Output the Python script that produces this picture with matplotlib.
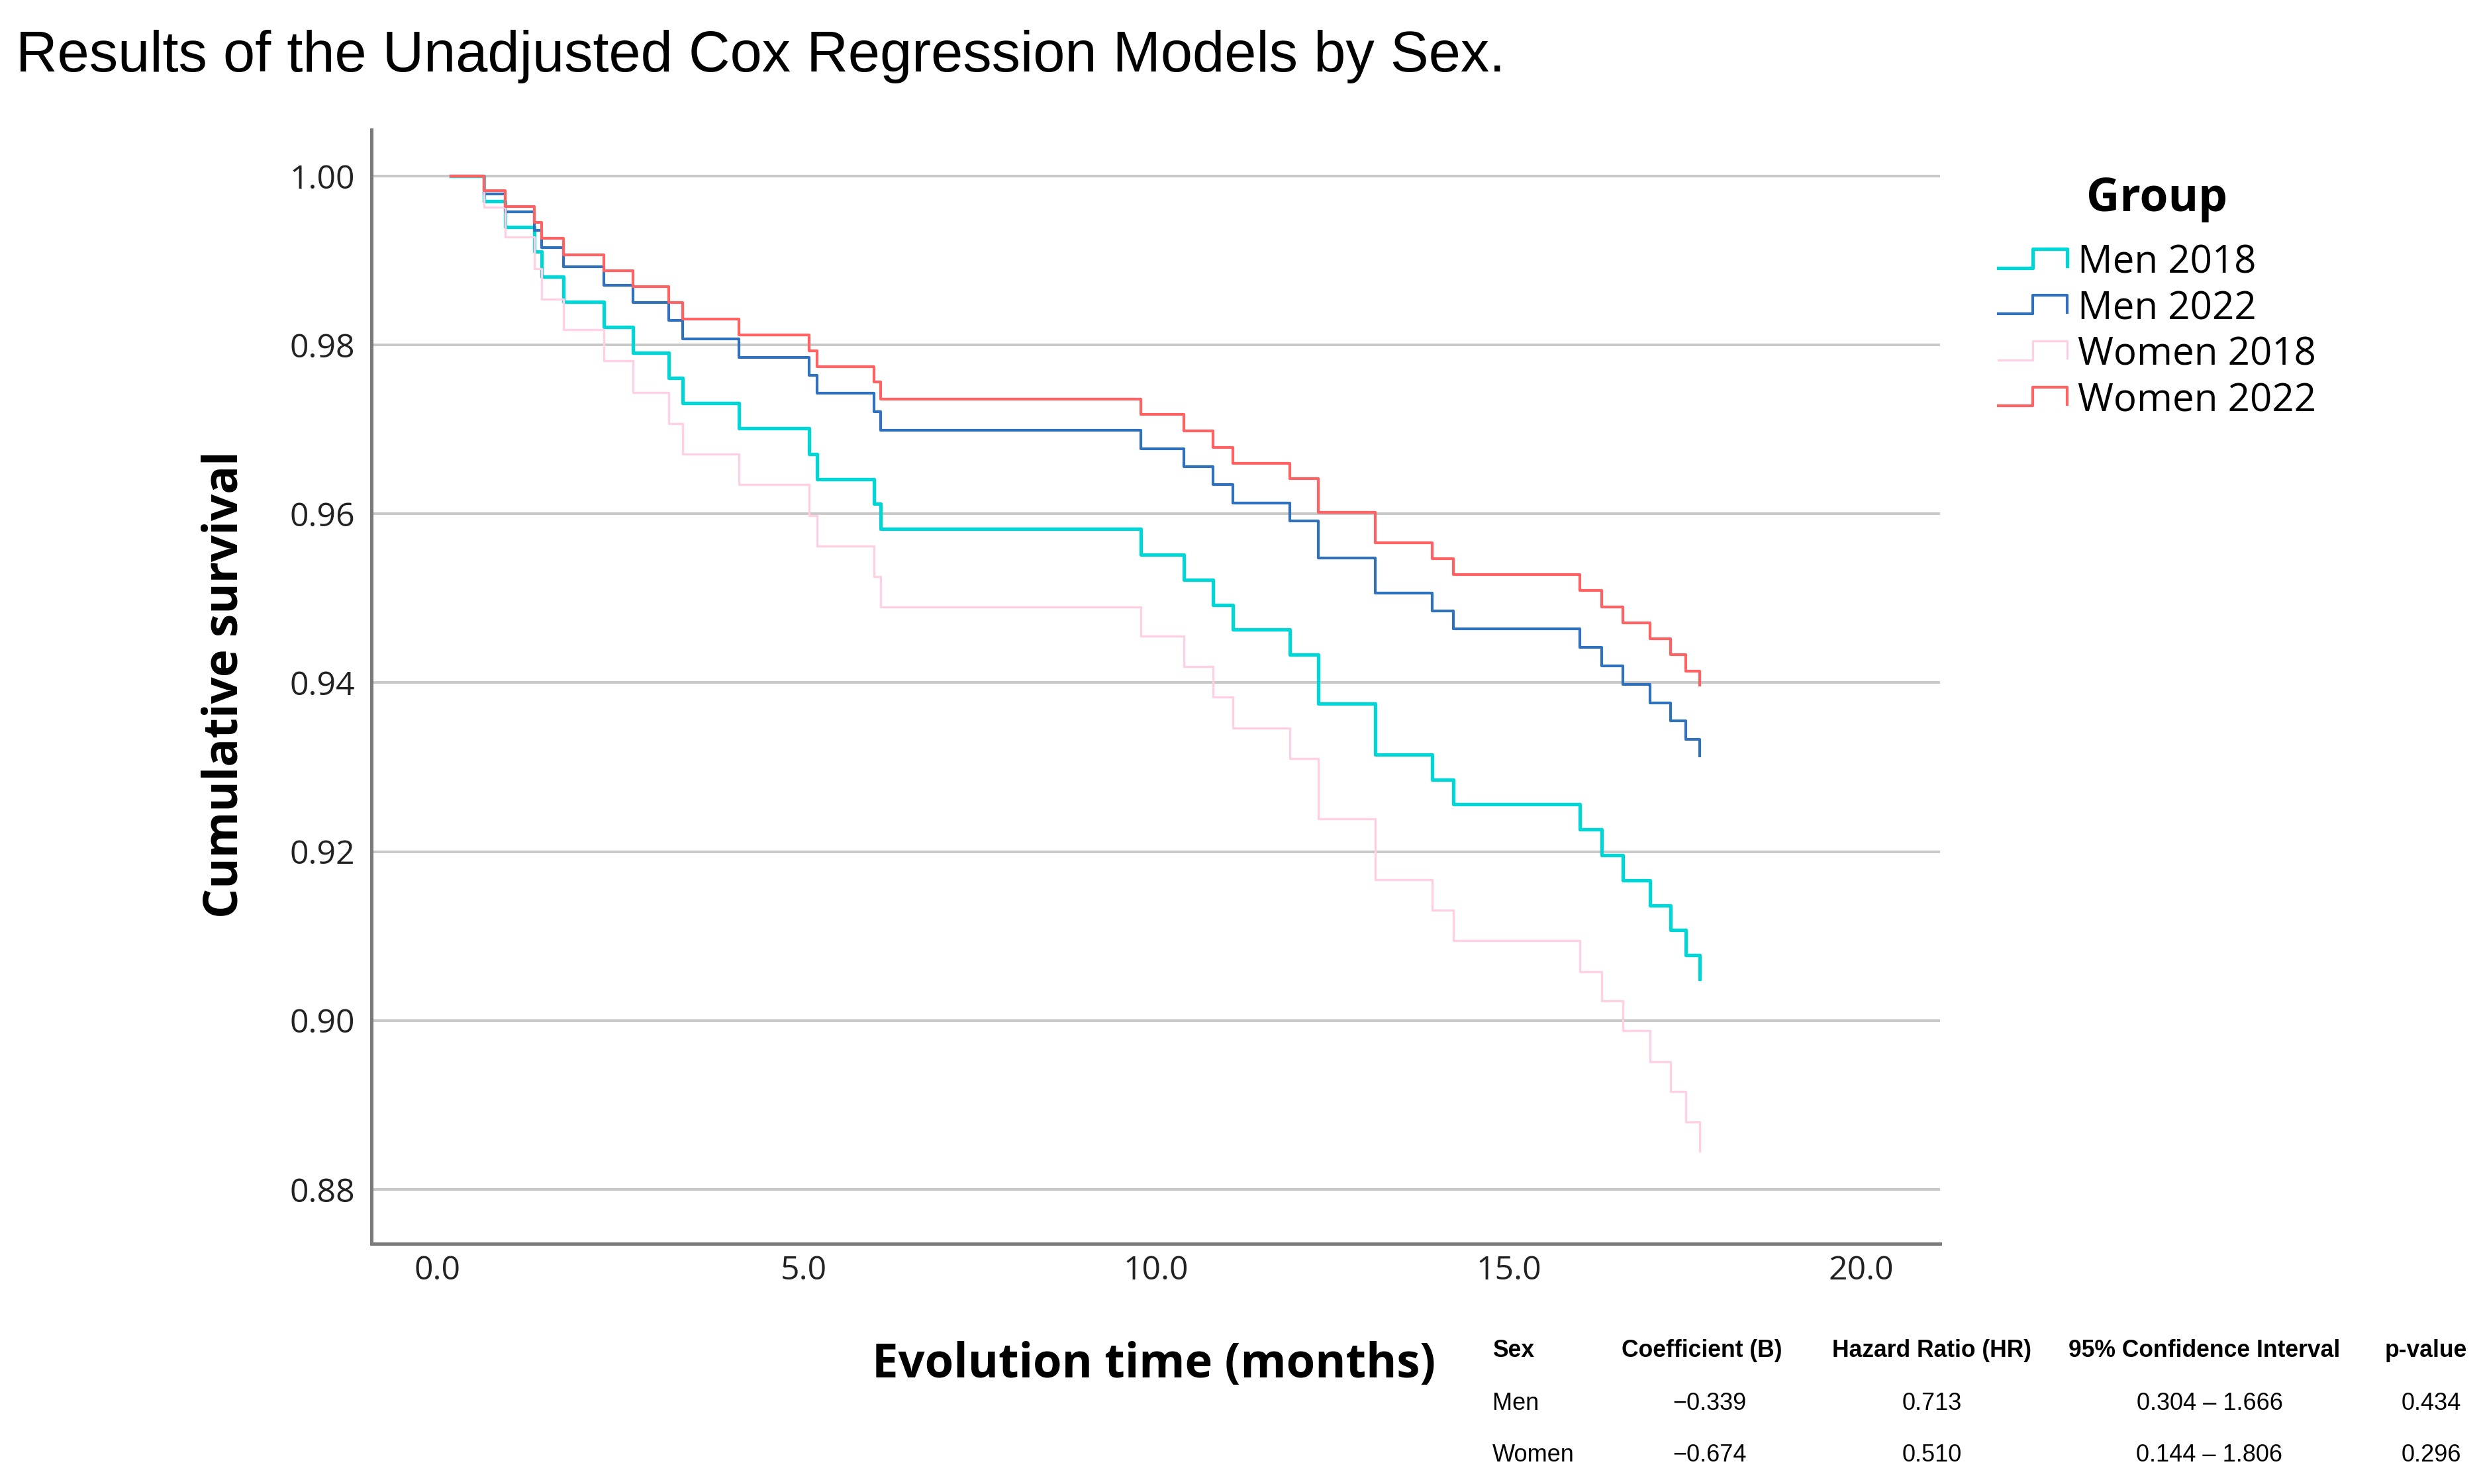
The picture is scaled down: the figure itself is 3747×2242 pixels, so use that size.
import numpy as np
import matplotlib
matplotlib.use("Agg")
import matplotlib.pyplot as plt
from matplotlib.legend_handler import HandlerBase
from matplotlib.lines import Line2D
from matplotlib.transforms import ScaledTranslation

# event times (months), shared by the four groups
times = [0.47, 0.77, 1.18, 1.28, 1.59, 2.17, 2.58, 3.09, 3.28, 4.08,
         5.08, 5.19, 6.00, 6.09, 9.78, 10.39, 10.81, 11.09, 11.90, 12.30,
         13.11, 13.92, 14.22, 16.01, 16.32, 16.62, 17.01, 17.30, 17.51, 17.71]

men_2018 = [0.9970, 0.9940, 0.9911, 0.9881, 0.9851, 0.9821, 0.9791, 0.9761, 0.9731, 0.9701,
            0.9671, 0.9641, 0.9612, 0.9582, 0.9552, 0.9522, 0.9492, 0.9463, 0.9433, 0.9375,
            0.9315, 0.9285, 0.9256, 0.9226, 0.9196, 0.9166, 0.9136, 0.9107, 0.9077, 0.9049]
men_2022 = [0.9979, 0.9958, 0.9936, 0.9915, 0.9893, 0.9871, 0.9850, 0.9829, 0.9807, 0.9785,
            0.9764, 0.9743, 0.9721, 0.9699, 0.9677, 0.9656, 0.9635, 0.9613, 0.9592, 0.9548,
            0.9506, 0.9485, 0.9464, 0.9442, 0.9420, 0.9398, 0.9376, 0.9355, 0.9333, 0.9313]
women_2018 = [0.9963, 0.9928, 0.9890, 0.9854, 0.9818, 0.9781, 0.9744, 0.9707, 0.9671, 0.9635,
              0.9598, 0.9562, 0.9526, 0.9490, 0.9455, 0.9419, 0.9383, 0.9346, 0.9310, 0.9239,
              0.9167, 0.9131, 0.9095, 0.9058, 0.9023, 0.8988, 0.8951, 0.8916, 0.8880, 0.8845]
women_2022 = [0.9983, 0.9964, 0.9945, 0.9926, 0.9907, 0.9888, 0.9869, 0.9850, 0.9831, 0.9812,
              0.9793, 0.9774, 0.9756, 0.9736, 0.9718, 0.9698, 0.9679, 0.9660, 0.9642, 0.9602,
              0.9566, 0.9547, 0.9528, 0.9509, 0.9490, 0.9471, 0.9452, 0.9433, 0.9414, 0.9397]

groups = ["Men 2018", "Men 2022", "Women 2018", "Women 2022"]
colors = ["#00d6d6", "#3170ba", "#ffd0e4", "#ff6262"]
widths = [1.9, 1.5, 1.2, 1.5]

x_ticks = [0, 5, 10, 15, 20]
y_ticks = [0.88, 0.90, 0.92, 0.94, 0.96, 0.98, 1.00]

# table under the chart
tab_header = ["Sex", "Coefficient (B)", "Hazard Ratio (HR)", "95% Confidence Interval", "p-value"]
tab_sex = ["Men", "Women"]
tab_coef = ["\u22120.339", "\u22120.674"]
tab_hr = ["0.713", "0.510"]
tab_ci = ["0.304 \u2013 1.666", "0.144 \u2013 1.806"]
tab_p = ["0.434", "0.296"]


class StepHandler(HandlerBase):
    def create_artists(self, legend, orig_handle, xdescent, ydescent,
                       width, height, fontsize, trans):
        xs = np.array([0.0, 0.5, 0.5, 1.0, 1.0]) * width - xdescent
        ys = np.array([0.2, 0.2, 0.9, 0.9, 0.26]) * height - ydescent
        ln = Line2D(xs, ys, color=orig_handle.get_color(),
                    lw=orig_handle.get_linewidth(), transform=trans)
        return [ln]


W, H = 3748, 2242
fig = plt.figure(figsize=(W / 200, H / 200), dpi=200)
ax = fig.add_axes([561 / W, 1 - 1879 / H, (2930 - 561) / W, (1879 - 196) / H])

t = [0.0] + times
handles = []
for name, s, c, lw in zip(groups, [men_2018, men_2022, women_2018, women_2022], colors, widths):
    ln, = ax.step(t, [1.0] + s, where="post", color=c, lw=lw, label=name, zorder=3)
    handles.append(ln)

ax.set_xlim(-1.13, 21.12)
ax.set_ylim(0.87356, 1.00549)
ax.set_xticks(x_ticks)
ax.set_xticklabels(["%.1f" % v for v in x_ticks])
ax.set_yticks(y_ticks)
ax.set_yticklabels(["%.2f" % v for v in y_ticks])
ax.tick_params(axis="both", length=0, labelsize=18, labelcolor="#222222")
ax.tick_params(axis="x", pad=6)
ax.tick_params(axis="y", pad=9)
for lab in ax.get_xticklabels() + ax.get_yticklabels():
    lab.set_fontfamily("Open Sans")
# the first x label sits a little left of its tick in the original
first = ax.get_xticklabels()[0]
first.set_transform(first.get_transform() + ScaledTranslation(-21 / 200, 0, fig.dpi_scale_trans))

ax.grid(axis="y", color="#c8c8c8", lw=1.4)
ax.set_axisbelow(True)
for sp in ["top", "right"]:
    ax.spines[sp].set_visible(False)
for sp in ["left", "bottom"]:
    ax.spines[sp].set_color("#7a7a7a")
    ax.spines[sp].set_linewidth(1.8)

fig.text(24 / W, 1 - 86 / H, "Results of the Unadjusted Cox Regression Models by Sex.",
         fontsize=31.2, family="Liberation Sans", ha="left", va="center")
fig.text(340 / W, 1 - 1034 / H, "Cumulative survival", rotation=90, fontsize=25.5,
         fontweight="bold", family="Open Sans", ha="center", va="center")
fig.text(1743 / W, 1 - 2062 / H, "Evolution time (months)", fontsize=25.4,
         fontweight="bold", family="Open Sans", ha="center", va="center")

leg = ax.legend(handles=handles, title="Group", loc="upper left",
                bbox_to_anchor=(3018 / W, 1 - 266 / H), bbox_transform=fig.transFigure,
                frameon=False, borderpad=0, borderaxespad=0, handlelength=1.78,
                handletextpad=0.27, labelspacing=0.19, handler_map={Line2D: StepHandler()},
                prop={"family": "Open Sans", "size": 21},
                title_fontproperties={"family": "Open Sans", "size": 25, "weight": "bold"})
# wider gap between the legend title and the entries
leg._legend_box.sep = 0.19 * 21 + 7.6

# table
hx = [2254, 2570, 2918, 3329, 3664]
vx = [2254, 2582, 2918, 3337, 3672]
for i, h in enumerate(tab_header):
    fig.text(hx[i] / W, 1 - 2040 / H, h, fontsize=12.8, fontweight="bold",
             family="Liberation Sans", ha="left" if i == 0 else "center", va="center")
rows_y = [2121, 2198]
for r in range(len(tab_sex)):
    vals = [tab_sex[r], tab_coef[r], tab_hr[r], tab_ci[r], tab_p[r]]
    for i, v in enumerate(vals):
        fig.text(vx[i] / W, 1 - rows_y[r] / H, v, fontsize=13,
                 family="Liberation Sans", ha="left" if i == 0 else "center", va="center")

fig.savefig("out.png", dpi=200, facecolor="white")
